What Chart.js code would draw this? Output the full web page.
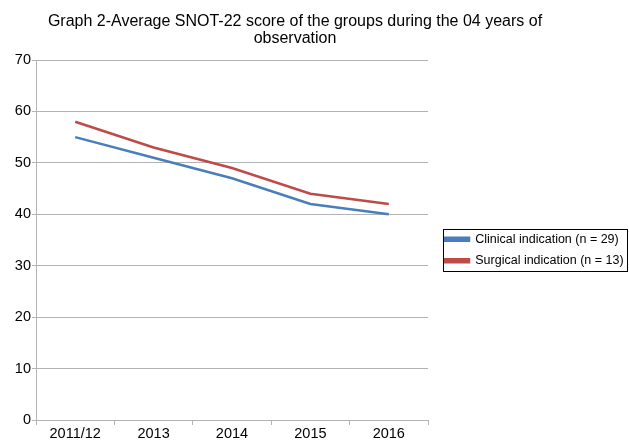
<!DOCTYPE html>
<html>
<head>
<meta charset="utf-8">
<script src="https://cdn.jsdelivr.net/npm/chart.js@4"></script>
<style>
  html, body { margin: 0; padding: 0; background: #fff; }
  #wrap { width: 629px; height: 440px; }
</style>
</head>
<body>
<div id="wrap"><canvas id="chart"></canvas></div>
<script>
// data
const years = ["2011/12", "2013", "2014", "2015", "2016"];
const clinical = [55, 51, 47, 42, 40];
const surgical = [58, 53, 49, 44, 42];
const titleLines = ["Graph 2-Average SNOT-22 score of the groups during the 04 years of", "observation"];

const FONT = "'Liberation Sans', Arial, Helvetica, sans-serif";

// title drawn at the reference spot (it is not centred on the canvas)
const titlePlugin = {
  id: "titleText",
  afterDraw(chart) {
    const c = chart.ctx;
    c.save();
    c.font = "16px " + FONT;
    c.fillStyle = "#000";
    c.textAlign = "center";
    c.textBaseline = "alphabetic";
    c.fillText(titleLines[0], 295, 26);
    c.fillText(titleLines[1], 295, 43);
    c.restore();
  }
};

// legend: fixed width, nudged right, boxed
const legendBox = {
  id: "legendBox",
  afterInit(chart) {
    const lg = chart.legend;
    const fit = lg.fit.bind(lg);
    lg.fit = function () { fit(); this.width = 201; };
  },
  afterLayout(chart) {
    chart.legend.left += 8;
  },
  afterDraw(chart) {
    const hb = chart.legend.legendHitBoxes;
    if (!hb || !hb.length) return;
    let l = Infinity, t = Infinity, r = -Infinity, b = -Infinity;
    hb.forEach(h => {
      l = Math.min(l, h.left); t = Math.min(t, h.top);
      r = Math.max(r, h.left + h.width); b = Math.max(b, h.top + h.height);
    });
    const c = chart.ctx;
    c.save();
    c.strokeStyle = "#000";
    c.lineWidth = 1;
    const x0 = Math.round(l - 2) + 0.5, y0 = Math.round(t - 4) + 0.5;
    c.strokeRect(x0, y0, Math.round(r + 4 - x0), Math.round(b + 4 - y0));
    c.restore();
  }
};

new Chart(document.getElementById("chart"), {
  type: "line",
  data: {
    labels: years,
    datasets: [
      { label: "Clinical indication (n = 29)", data: clinical, borderColor: "#4a7ebb", backgroundColor: "#4a7ebb", borderWidth: 2.5, pointRadius: 0, tension: 0 },
      { label: "Surgical indication (n = 13)", data: surgical, borderColor: "#be4b48", backgroundColor: "#be4b48", borderWidth: 2.5, pointRadius: 0, tension: 0 }
    ]
  },
  options: {
    responsive: true,
    maintainAspectRatio: false,
    animation: false,
    layout: { padding: { top: 60, left: 0, right: 0, bottom: 0 } },
    plugins: {
      title: { display: false },
      tooltip: { enabled: false },
      legend: {
        position: "right",
        labels: {
          boxWidth: 24, boxHeight: 3, padding: 9,
          color: "#000",
          font: { family: FONT, size: 12.5 }
        }
      }
    },
    scales: {
      x: {
        offset: true,
        grid: { offset: true, drawOnChartArea: false, drawTicks: true, tickLength: 5, color: "#b3b3b3" },
        border: { color: "#b3b3b3" },
        ticks: { color: "#000", font: { family: FONT, size: 14.5 }, padding: 0, maxRotation: 0 },
        afterFit(s) { s.height = 20; }
      },
      y: {
        min: 0, max: 70,
        grid: { color: "#b3b3b3", tickLength: 4 },
        border: { color: "#b3b3b3" },
        ticks: { stepSize: 10, color: "#000", font: { family: FONT, size: 14.5 }, padding: 1 },
        afterFit(s) { s.width = 36; }
      }
    }
  },
  plugins: [titlePlugin, legendBox]
});
</script>
</body>
</html>
